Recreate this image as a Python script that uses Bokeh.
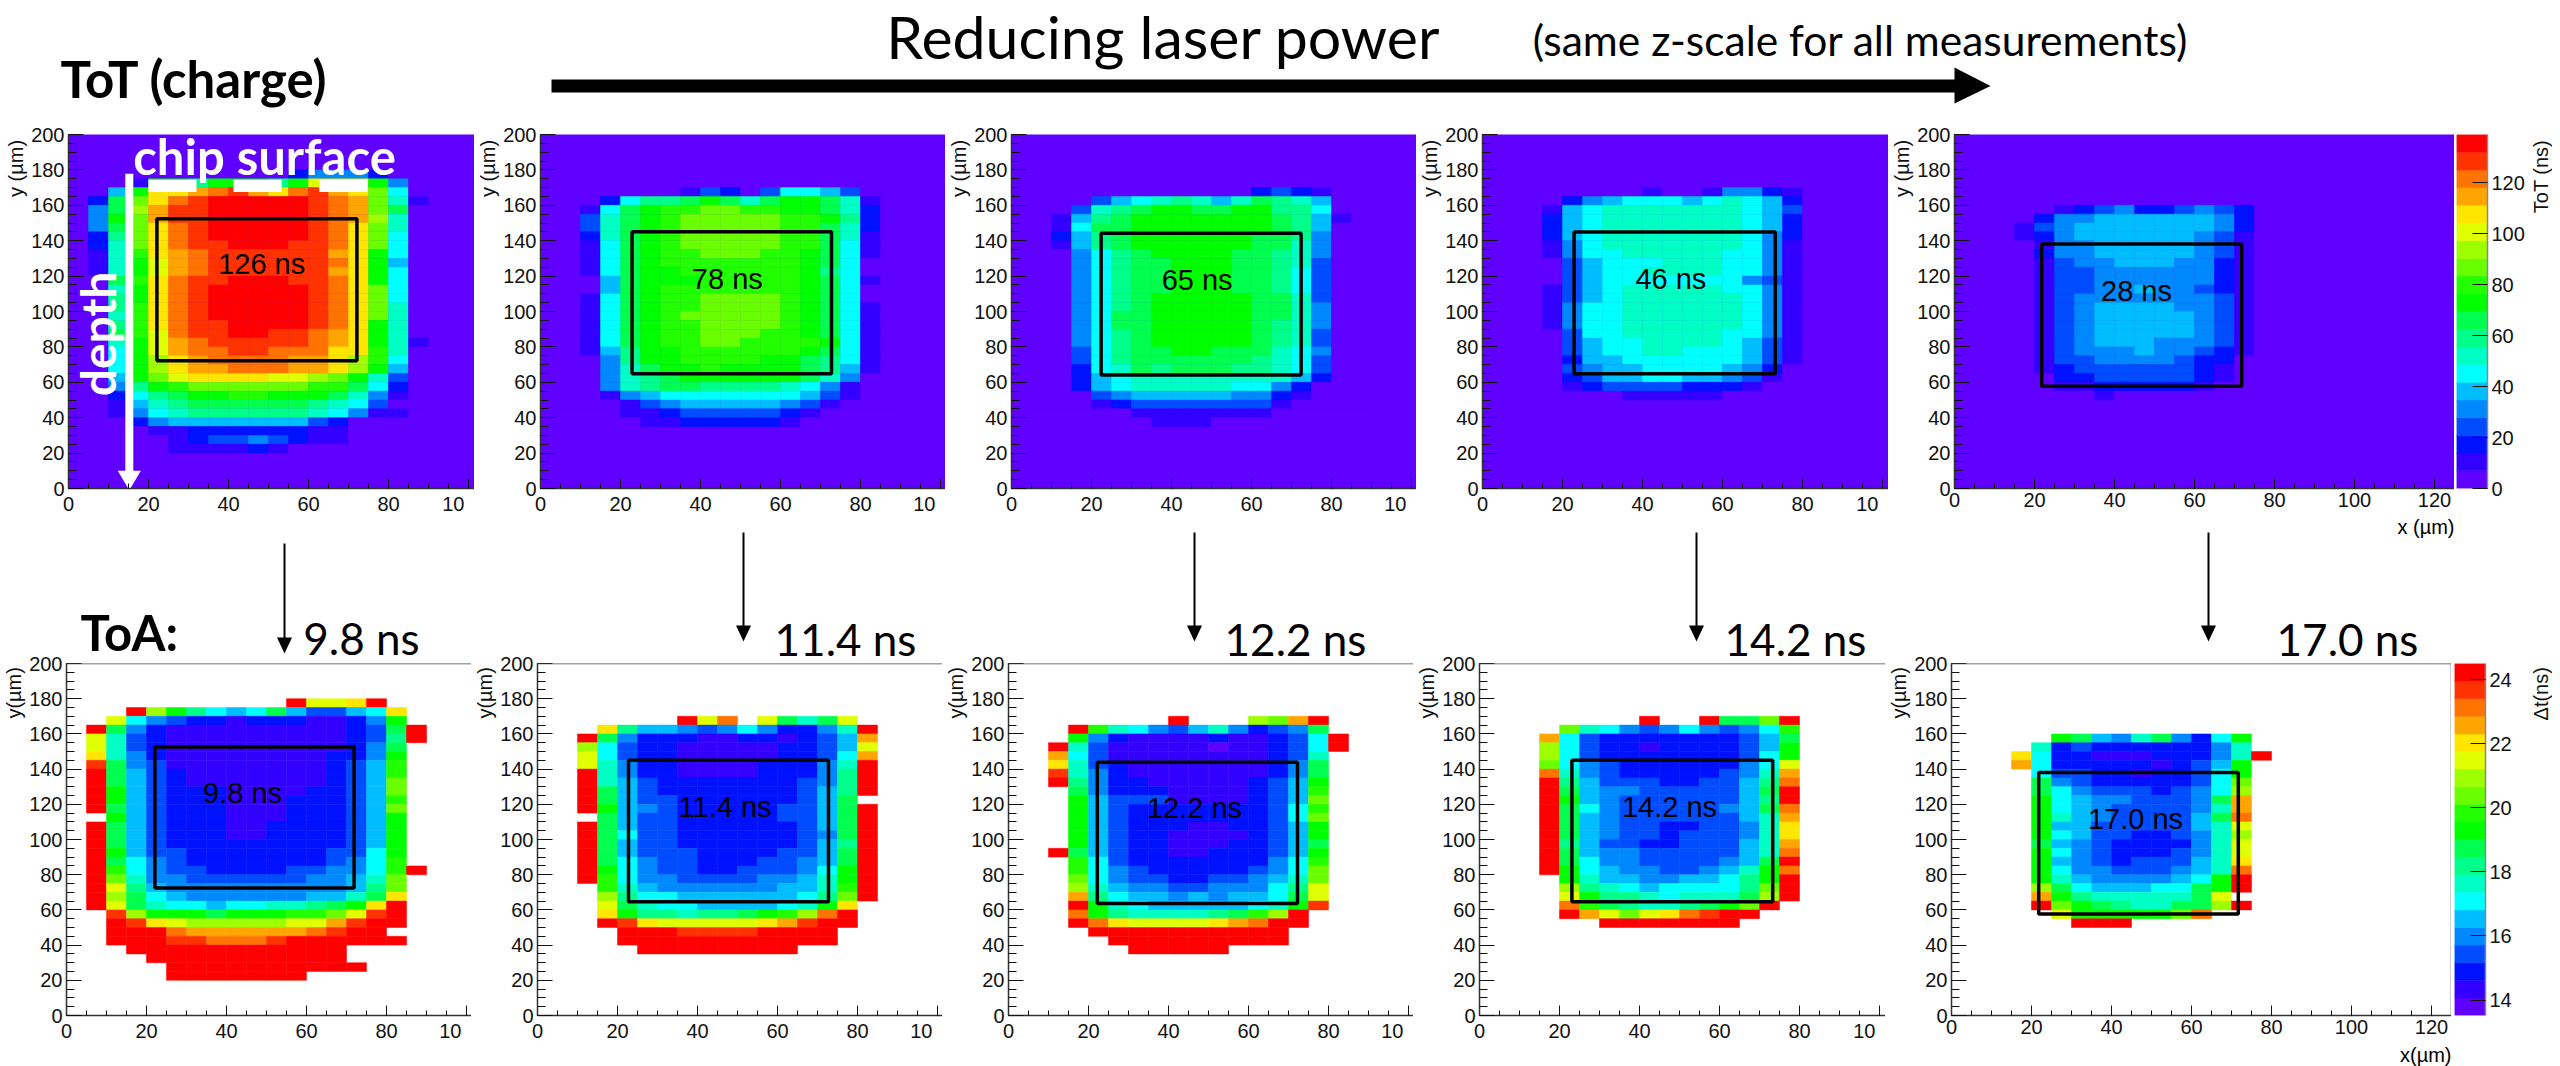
from bokeh.embed import file_html
from bokeh.resources import INLINE
from bokeh.core.properties import value
from bokeh.layouts import column, row
from bokeh.models import ColumnDataSource, FixedTicker, LinearColorMapper, Range1d, Span
from bokeh.plotting import figure
from bokeh.transform import transform
import numpy as np

# ---------- data: each character is the colour band of one 5 um x 5 um bin ----------
BANDS = "0123456789abcdefghij"
PALETTE = ["#6000ff", "#3300ff", "#0011ff", "#004cff", "#0088ff", "#00bdff", "#00ffff",
           "#00ffc4", "#00ff8a", "#00ff4f", "#00ff00", "#22ff00", "#6aff00", "#9dff00",
           "#e0ff00", "#ffe600", "#ffa500", "#ff7300", "#ff3300", "#ff0000"]
TOT_RANGE = (0.0, 139.0)
TOA_RANGE = (13.52, 24.5)

TOT_126 = ["00000000002444200", "001aa8aaa8aeeea40", "05affghigfhigfc60", "29cfhijjjjjihgc71",
           "49dgiijjjjjihgc90", "4acgiijjjjjihgd70", "49cfhijjjjjihfc70", "28cfhijjjjjihfc60",
           "27cfhiijjjiihfc60", "17bfghiiiiiigfa60", "17aeghiiiiiihfa50", "17aeghiiiiiigfa60",
           "09bfhiijjjiihfa60", "07afhijjjjjihfc60", "08afhijjjjjihfc60", "08bfhijjjjjihfc70",
           "07bfhijjjjjihfc70", "08bfhiijjjjihfa70", "09behiijjiihgfa70", "07aeghiiiiihgfa71",
           "06aeghhiihhhffb70", "06adfghhhhggfdb60", "06adfgghhhggfda50", "05aceffffeedca730",
           "048abccccccbb9620", "02689aabbaaa97410", "01578999999876300", "01467888888764110",
           "00245555555320000", "00011222222110000", "00001233432110000", "00001111210000000"]
TOT_78 = ["00000013203665300", "0026889a979aa9710", "0169abbccbbaa9720", "0379abcccccbba820",
          "0379abcccccbb9720", "0279abcccccbb9710", "0169abcccccbb9610", "0169abbcccbba9610",
          "0169abbbbbbba9600", "0169aabbbbbba8600", "0059aaabbbbba9610", "0059abbbbbbba9600",
          "0169abbccccba9600", "0169abbccccba9610", "0169abcccccba9610", "0169abbccccba9610",
          "0169abbcccbba9610", "0169abbccbbbba610", "0158aabbbbbba9610", "0048aabbbbaa98610",
          "00479aabaaaa98510", "004789aaaaaa97400", "00478998888764100", "00145666666653100",
          "00013455555431000", "00011233333210000", "00001122222100000"]
TOT_65 = ["00000000000232100", "00035678757987500", "003789aa99aa88600", "01589aaaaaaa98510",
          "01699aaaaaaa98500", "02589aaaaaa998400", "01589aaaaaa997400", "004689aaaa9987400",
          "0046899aaa9987300", "0046899aaa9986300", "0046899aaa9986300", "0046899aaa9986300",
          "004689aaaaa997300", "004689aaaaa997400", "004699aaaaa997400", "004699aaaaa987400",
          "004689aaaaa987300", "004689aaaaa987300", "0036899aa99976400", "00368999999876300",
          "00267989998876300", "00256777777775200", "00256777776642000", "00034555554421000",
          "00012333333310000", "00000111111100000", "00000011100000000"]
TOT_46 = ["00000001001442100", "00024566656765200", "00156777777765300", "00256777777765200",
          "00256777777765200", "00256777777764200", "00146777777764100", "00146677777664100",
          "00035666777664100", "00035667777664100", "00035666666643100", "00135677777664100",
          "00135677777764100", "00146677777764100", "00146677777764100", "00146677777764100",
          "00036677777664100", "00035667777653100", "00035667766653100", "00025566666653100",
          "00034556666542000", "00023556655431000", "00012333322210000", "00000011111000000"]
TOT_28 = ["00001234223432000", "00024455555542000", "00134555555542000", "00124555555431000",
          "00014455555431000", "00024455555431000", "00013445554421000", "00013344444421000",
          "00013344444421000", "00013344544321000", "00013444444431000", "00013455554431000",
          "00013455555431000", "00013455555431000", "00013455555431000", "00013455544431000",
          "00013444544321000", "00013344443220000", "00012333333210000", "00002233333210000",
          "00001122222100000", "00000010000000000"]

TOA_98 = ["..........jeefj..", "..jda8656953356f.", ".e6432212221124a.", "j942111111111239j",
          "e732111111111238j", "e732111111111249.", "f74211111111224a.", "i94311111111235b.",
          "j95321111111235b.", "j95321111111235c.", "ja5322211112235c.", "ja5322211122235b.",
          "j95322211122235c.", ".a5322211122235a.", "j95322211222235a.", "j95322211222235a.",
          "j95322222222235a.", "ja5332222222336a.", "j96432222222346b.", "jb6433222233446bj",
          "jc7443333334457c.", "je8544444444458c.", "jd9654444445579f.", "je97665667789afj.",
          ".idaaa9aaabbceij.", ".jifedddddeegijj.", ".jjjhgggggghijj..", ".jjjiihhhijjjjjj.",
          "..jjjjjjjjjjj....", "...jjjjjjjjjj....", "....jjjjjjjjjj...", "....jjjjjjj......"]
TOA_114 = ["......jeh.e979e..", "..f855434642247j.", ".j9422211221235g.", ".d6322111112235e.",
           ".e6322111112236g.", ".e7422111122247j.", ".j7422111122248j.", ".j7532222222348j.",
           ".j9532222222358j.", ".j9533222222359..", ".ja543222223359j.", "..9533222223359j.",
           ".j9533222222359j.", ".j9633222222349j.", ".j9533222222358j.", ".j9533322223359j.",
           ".j9643322233459j.", ".ja64332233346aj.", ".jb64433334457aj.", "..b75444444557bj.",
           "..d86655555568cj.", "..e9766555567af..", "..fa887889abdhj..", "..jifeeeeefgijj..",
           "...jjjiiiijjjj...", "...jjjjjjjjjjj...", "....jjjjjjjj....."]
TOA_122 = [".......j...dcgj..", "..jb76435742349..", "..a421111211236j.", ".j7311111011236j.",
           ".g6311111111237..", ".f7321111111249..", ".i7421111111249..", ".j842211111235a..",
           "..942221111235b..", "..a53331111235c..", "..a53222222236b..", "..a53222222236c..",
           "..a53222112235a..", "..a53221111235a..", "..a532211122359..", ".j953221122235a..",
           "..b63222222246b..", "..b64322222346c..", "..c64332233457c..", "..d75443344468e..",
           "..g86554545569e..", "..ja765555567ai..", "..ha8777789bdj...", "..jhfeeeefghjj...",
           "...jjjjjjjjjj....", "....jjjjjjjjj....", ".....jjjjj......."]
TOA_142 = [".......j..j99cj..", "...c7643464346b..", "..g632222222359..", "..d63221222235a..",
           "..d63222222236a..", "..c64322222246e..", "..h74322222347g..", "..j85333223358h..",
           "..j95443333359j..", "..ja5433333358j..", "..j96433333459h..", "..j95433333357g..",
           "..j95433223347f..", "..j95433233347f..", "..j85332233357g..", "..j95443333357h..",
           "..j96443333459j..", "..ja654433457ah..", "...a755445568aj..", "...d876566668cj..",
           "...ea88767779dj..", "...hb987789acj...", "...jgecefhijj....", ".....jjjjjjj....."]
TOA_170 = ["....a95479426a...", "...72322222247...", "..f62211122247j..", "..g6222221235a...",
           "...6332212236a...", "...9432222236c...", "...9643332346d...", "...a654433349g...",
           "...a654333347g...", "...a754333359h...", "...a553333357e...", "...a653322347d...",
           "...9543222247e...", "...a643222347e...", "...a543233357f...", "...a644333457h...",
           "...a75444456aj...", "...d96555669aj...", "...ga8777779e....", "...jca987799dj...",
           "....eaaaaach.....", ".....jjj........."]

TOT_GRIDS = [TOT_126, TOT_78, TOT_65, TOT_46, TOT_28]
TOT_FIRST_ROW = [175, 165, 165, 165, 155]
TOT_NOTES = ["126 ns", "78 ns", "65 ns", "46 ns", "28 ns"]
TOT_NOTE_X = [48.3, 46.7, 46.4, 47.1, 45.5]
TOT_NOTE_Y = [126.7, 118.4, 117.9, 118.4, 111.7]
TOT_BOXES = [(22.1, 72.1, 72.2, 152.4), (22.9, 72.75, 64.8, 145.1), (22.4, 72.4, 64.1, 144.2),
             (22.9, 73.2, 64.8, 144.9), (21.8, 71.8, 57.8, 138.2)]

TOA_GRIDS = [TOA_98, TOA_114, TOA_122, TOA_142, TOA_170]
TOA_FIRST_ROW = [175, 165, 165, 165, 155]
TOA_NOTES = ["9.8 ns", "11.4 ns", "12.2 ns", "14.2 ns", "17.0 ns"]
TOA_NOTE_X = [44.0, 46.9, 46.5, 47.5, 46.0]
TOA_NOTE_Y = [126.2, 118.3, 117.7, 118.3, 111.7]
TOA_BOXES = [(22.1, 71.9, 72.4, 152.6), (22.75, 72.75, 64.6, 145.0), (22.2, 72.25, 63.7, 143.9),
             (23.1, 73.3, 64.6, 145.0), (21.8, 71.7, 57.6, 138.0)]

PADS_X = [(20, 32), (41.25, 53.3), (62.7, 74.75)]
PADS_Y = (167.5, 174.4)

# ---------- layout of the page, in pixels ----------
TOP_H, TOP_ROW_Y = 122, (12, 355, 28)
MID_H, BOT_ROW_Y = 148, (10, 354, 27)
END_H = 22
ROW_OVERLAP = 12
PLOT_LEFT = 40
TITLE_RAISE = 6
TOP_X = [(28, 406), (26, 405), (26, 405), (26, 406), (26, 500)]
BOT_X = [(26, 405), (26, 405), (26, 405), (26, 406), (26, 500)]
TICK_FONT = "Liberation Sans"
TITLE_FONT = "Lato"
INK = "#111111"


def style_axis(ax, major, minor=None):
    ax.axis_line_color = "#333333"
    ax.axis_line_width = 1.5
    ax.major_tick_line_color = "#111111"
    ax.minor_tick_line_color = "#111111"
    ax.major_tick_out = 0
    ax.minor_tick_out = 0
    ax.major_label_text_font = TICK_FONT
    ax.major_label_text_font_size = "20px"
    ax.major_label_text_color = INK
    ax.major_label_standoff = 4
    ax.ticker = FixedTicker(ticks=major, minor_ticks=minor if minor is not None else [])


def gutter(width, y_layout, text, text_x):
    """A narrow column beside a plot that holds its rotated axis title, ending near the frame's top."""
    top, fh, bottom = y_layout
    h = top + fh + bottom
    g = figure(width=width, height=h, x_range=Range1d(0, width), y_range=Range1d(h, 0),
               output_backend="svg", toolbar_location=None, min_border_left=0, min_border_right=0,
               min_border_top=0, min_border_bottom=0, outline_line_color=None,
               background_fill_color=None, border_fill_color=None)
    g.grid.visible = False
    g.axis.visible = False
    g.text(x=[text_x], y=[top - TITLE_RAISE], text=[text], angle=[np.pi / 2], text_align="right",
           text_baseline="middle", text_font=value(TICK_FONT), text_font_size="20px", text_color=INK)
    return g


def panel(grid, first_row, xrange_max, box, note, note_x, note_y, fw, y_layout, mapper, z_range, bg,
          top_line=False, right_line=False):
    top, fh, bottom = y_layout
    p = figure(width=PLOT_LEFT + fw, height=top + fh + bottom,
               x_range=Range1d(0, xrange_max), y_range=Range1d(0, 200),
               output_backend="svg", toolbar_location=None,
               min_border_left=PLOT_LEFT, min_border_right=0, min_border_top=top, min_border_bottom=bottom,
               background_fill_color=bg, border_fill_color=None, outline_line_color=None)
    p.grid.visible = False
    step = (z_range[1] - z_range[0]) / 20
    L, R, B, T, Z = [], [], [], [], []
    for i, line in enumerate(grid):
        y0 = first_row - 5 * i
        for j, c in enumerate(line):
            if c == ".":
                continue
            x0 = 5 + 5 * j
            L.append(x0); R.append(x0 + 5); B.append(y0); T.append(y0 + 5)
            Z.append(z_range[0] + (BANDS.index(c) + 0.5) * step)
    src = ColumnDataSource(dict(left=L, right=R, bottom=B, top=T, z=Z))
    p.quad(left="left", right="right", bottom="bottom", top="top", source=src,
           fill_color=transform("z", mapper), line_color=transform("z", mapper), line_width=0.5)
    p.quad(left=[box[0]], right=[box[1]], bottom=[box[2]], top=[box[3]], fill_color=None,
           line_color="black", line_width=3.5)
    p.text(x=[note_x], y=[note_y], text=[note], text_align="center", text_baseline="middle",
           text_font=value(TICK_FONT), text_font_size="29px", text_color="black")
    style_axis(p.yaxis[0], list(range(0, 201, 20)), list(range(0, 201, 5)))
    style_axis(p.xaxis[0], list(range(0, 121, 20)), list(range(0, 126, 5)))
    p.yaxis.major_tick_in = 15
    p.yaxis.minor_tick_in = 8
    p.xaxis.major_tick_in = 10
    p.xaxis.minor_tick_in = 5
    if xrange_max < 110:
        p.xaxis.major_label_overrides = {100: "10\u2002"}
    if top_line:
        p.add_layout(Span(location=200, dimension="width", line_color="#444444", line_width=1.5))
    if right_line:
        p.add_layout(Span(location=xrange_max, dimension="height", line_color="#444444", line_width=1.5))
    return p


def colorbar(mapper, z_range, ticks, left, fw, right, y_layout):
    top, fh, bottom = y_layout
    c = figure(width=left + fw + right, height=top + fh + bottom,
               x_range=Range1d(0, 1), y_range=Range1d(*z_range), y_axis_location="right",
               output_backend="svg", toolbar_location=None,
               min_border_left=left, min_border_right=right, min_border_top=top,
               min_border_bottom=bottom, outline_line_color=None, border_fill_color=None)
    c.grid.visible = False
    c.xaxis.visible = False
    edges = np.linspace(z_range[0], z_range[1], 21)
    src = ColumnDataSource(dict(bottom=edges[:-1], top=edges[1:], z=(edges[:-1] + edges[1:]) / 2))
    c.quad(left=0, right=1, bottom="bottom", top="top", source=src,
           fill_color=transform("z", mapper), line_color=transform("z", mapper), line_width=0.5)
    style_axis(c.yaxis[0], ticks)
    c.yaxis.major_tick_in = 15
    c.yaxis.minor_tick_in = 0
    c.yaxis.axis_line_color = "#888888"
    return c


def strip(height, y_first, y_last):
    s = figure(width=2552, height=height, x_range=Range1d(0, 2552), y_range=Range1d(y_last, y_first),
               output_backend="svg", toolbar_location=None, min_border=0,
               min_border_left=0, min_border_right=0, min_border_top=0, min_border_bottom=0,
               outline_line_color=None)
    s.grid.visible = False
    s.axis.visible = False
    return s


def caption(s, x, y, text, size, bold=False, align="center", font=TITLE_FONT):
    s.text(x=[x], y=[y], text=[text], text_align=align, text_baseline="middle",
           text_font=value(font), text_font_size=size,
           text_font_style="bold" if bold else "normal", text_color="black")


tot_mapper = LinearColorMapper(palette=PALETTE, low=TOT_RANGE[0], high=TOT_RANGE[1])
toa_mapper = LinearColorMapper(palette=PALETTE, low=TOA_RANGE[0], high=TOA_RANGE[1])

# ---------- top strip ----------
top = strip(TOP_H, 0, 122)
caption(top, 60, 78, "ToT (charge)", "51px", bold=True, align="left")
caption(top, 1163, 36, "Reducing laser power", "59px")
caption(top, 1860, 39, "(same z-scale for all measurements)", "42.5px")
top.patch(x=[551, 1954, 1954, 1990, 1954, 1954, 551], y=[79, 79, 67, 85.5, 103, 92, 92],
          color="black", line_width=0)

# ---------- ToT row ----------
tot_figs = []
for k in range(5):
    g_w, fw = TOP_X[k]
    tot_figs.append(gutter(g_w, TOP_ROW_Y, "y (\u00b5m)", g_w - 13))
    tot_figs.append(panel(TOT_GRIDS[k], TOT_FIRST_ROW[k], fw / 4, TOT_BOXES[k], TOT_NOTES[k],
                          TOT_NOTE_X[k], TOT_NOTE_Y[k], fw, TOP_ROW_Y, tot_mapper, TOT_RANGE, PALETTE[0]))
first = tot_figs[1]
first.quad(left=[a for a, _ in PADS_X], right=[b for _, b in PADS_X],
           bottom=[PADS_Y[0]] * 3, top=[PADS_Y[1]] * 3, color="white", line_width=0)
first.patch(x=[14.2, 16.2, 16.2, 18.1, 15.2, 12.3, 14.2], y=[177.8, 177.8, 10, 10, -1, 10, 10],
            color="white", line_width=0)
first.text(x=[49], y=[188], text=["chip surface"], text_align="center", text_baseline="middle",
           text_font=value(TITLE_FONT), text_font_style="bold", text_font_size="49px", text_color="white")
first.text(x=[7.25], y=[87.3], text=["depth"], text_align="center", text_baseline="middle", angle=[np.pi / 2],
           text_font=value(TITLE_FONT), text_font_style="bold", text_font_size="48px", text_color="white")
cb_top = colorbar(tot_mapper, TOT_RANGE, list(range(0, 121, 20)), 2, 31, 41, TOP_ROW_Y)
cb_top_title = gutter(24, TOP_ROW_Y, "ToT (ns)", 12)

# ---------- middle strip ----------
mid = strip(MID_H, 517, 665)
ARROW_X = [284, 743, 1194, 1696, 2208]
ARROW_FROM = [543, 532, 532, 532, 532]
ARROW_TIP = [653, 641, 641, 641, 641]
for x, a, b in zip(ARROW_X, ARROW_FROM, ARROW_TIP):
    mid.segment(x0=[x], y0=[a], x1=[x], y1=[b - 10], line_color="black", line_width=2)
    mid.patch(x=[x - 7.5, x + 7.5, x], y=[b - 16, b - 16, b], color="black", line_width=0)
caption(mid, 80, 631, "ToA:", "49px", bold=True, align="left")
NS_X = [361, 845, 1295, 1795, 2347]
NS_Y = [637, 638, 638, 638, 638]
for x, y, t in zip(NS_X, NS_Y, TOA_NOTES):
    caption(mid, x, y, t, "44px")
caption(mid, 2454, 526, "x (\u00b5m)", "20px", align="right", font=TICK_FONT)

# ---------- ToA row ----------
toa_figs = []
for k in range(5):
    g_w, fw = BOT_X[k]
    toa_figs.append(gutter(g_w, BOT_ROW_Y, "y(\u00b5m)", g_w - 13))
    toa_figs.append(panel(TOA_GRIDS[k], TOA_FIRST_ROW[k], fw / 4, TOA_BOXES[k], TOA_NOTES[k],
                          TOA_NOTE_X[k], TOA_NOTE_Y[k], fw, BOT_ROW_Y, toa_mapper, TOA_RANGE, "white",
                          top_line=True, right_line=k == 4))
cb_bot = colorbar(toa_mapper, TOA_RANGE, list(range(14, 25, 2)), 3, 31, 43, BOT_ROW_Y)
cb_bot_title = gutter(24, BOT_ROW_Y, "\u0394t(ns)", 12)

# ---------- bottom strip ----------
end = strip(END_H, 1044, 1066)
caption(end, 2451, 1054, "x(\u00b5m)", "20px", align="right", font=TICK_FONT)

bottom_row = row(*toa_figs, cb_bot, cb_bot_title, margin=(-ROW_OVERLAP, 0, 0, 0))
page = column(top, row(*tot_figs, cb_top, cb_top_title), mid, bottom_row, end)
open("out.html", "w").write(file_html(page, INLINE))
